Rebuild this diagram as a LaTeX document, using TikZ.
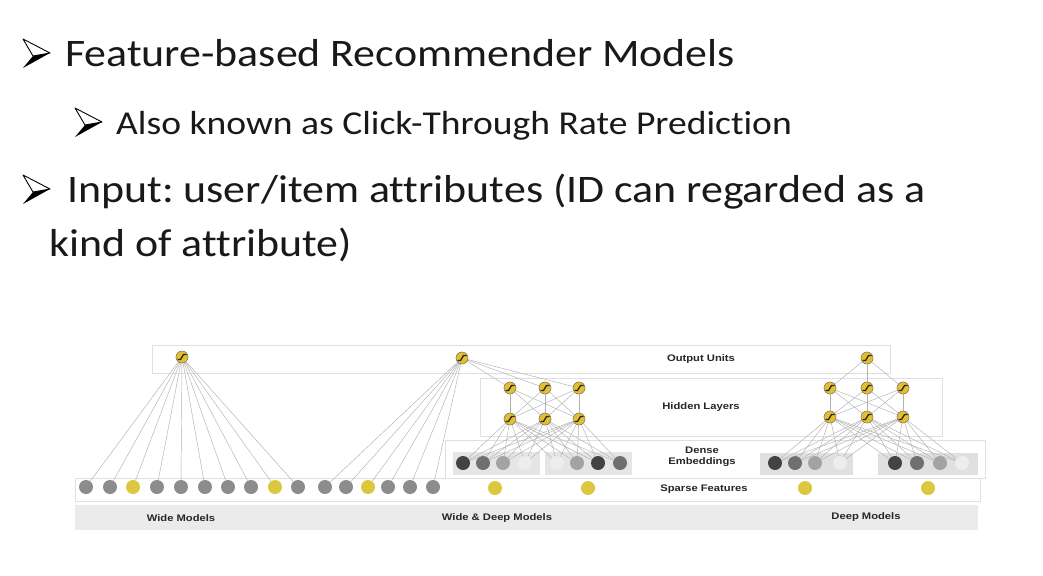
\documentclass[tikz,border=0pt]{standalone}
\usepackage{fontspec}
\setmainfont{Carlito}[FakeStretch=1.125, RawFeature=-liga]
\newfontfamily\labfont{Liberation Sans}[FakeStretch=1.18]
\frenchspacing
\definecolor{neuy}{HTML}{E3BE2E}
\definecolor{sparsey}{HTML}{DCC83E}
\definecolor{sparseg}{HTML}{8C8C8C}
\definecolor{embA}{HTML}{434343}
\definecolor{embB}{HTML}{6F6F6F}
\definecolor{embC}{HTML}{A3A3A3}
\definecolor{embD}{HTML}{EDEDED}
\tikzset{
  txt/.style={anchor=base west, inner sep=0pt, text=black!90},
  band/.style={draw=black!12, line width=0.6pt},
  lbl/.style={font=\labfont\bfseries\fontsize{9.5}{10}\selectfont, text=black!85, align=center, inner sep=0pt},
  neuron/.style={circle, minimum size=12pt, inner sep=0pt, fill=neuy, draw=black!55, line width=0.4pt,
    path picture={\draw[black!85, line width=1.3pt]
      ([xshift=-4.5pt,yshift=-2.5pt]path picture bounding box.center) --
      ([xshift=-1.5pt,yshift=-2.5pt]path picture bounding box.center) --
      ([xshift=1.5pt,yshift=2.5pt]path picture bounding box.center) --
      ([xshift=4.5pt,yshift=2.5pt]path picture bounding box.center);}},
  sp/.style={circle, minimum size=14pt, inner sep=0pt, fill=sparseg},
  spy/.style={circle, minimum size=14pt, inner sep=0pt, fill=sparsey},
  emb/.style={circle, minimum size=14pt, inner sep=0pt, fill=#1},
  conn/.style={draw=black!30, line width=0.45pt},
  bul/.pic={\fill[black] (0,0) -- (-17,3) -- (-27,15) -- cycle;
            \draw[black, line width=0.9pt, line join=round, fill=white] (0,0) -- (-27,-14) -- (-17,3) -- cycle;}
}
\begin{document}
\begin{tikzpicture}[x=1pt,y=-1pt]
\useasboundingbox (0,0) rectangle (1043,575);
\fill[white] (0,0) rectangle (1043,575);

% ---- bullet text ----
\pic at (50,53) {bul};
\node[txt, font=\fontsize{39}{39}\selectfont] (t1) at (65,67) {Feature-based Recommender Models};
\pic at (102,122) {bul};
\node[txt, font=\fontsize{33.4}{34}\selectfont] (t2) at (116,135) {Also known as Click-Through Rate Prediction};
\pic at (50,189) {bul};
\node[txt, font=\fontsize{39}{39}\selectfont] (t3) at (67,202) {Input: user/item attributes (ID can regarded as a};
\node[txt, font=\fontsize{39}{39}\selectfont] (t4) at (49,256) {kind of attribute)};

% ---- bands ----
\draw[band] (152,345) rectangle (890,373);
\draw[band] (480,378) rectangle (942,436);
\draw[band] (445,440) rectangle (985,478);
\draw[band] (75,478) rectangle (980,501);
\fill[black!8] (75,505) rectangle (978,530);
\fill[black!10] (453,452) rectangle (540,475);
\fill[black!10] (545,452) rectangle (632,475);
\fill[black!12] (760,453) rectangle (853,475);
\fill[black!12] (878,453) rectangle (978,475);

% ---- Wide model ----
\node[neuron] (wo) at (182,357) {};
\foreach \i/\x/\s in {1/86/sp,2/110/sp,3/133/spy,4/157/sp,5/181/sp,6/205/sp,7/228/sp,8/251/sp,9/275/spy,10/298/sp}{
  \node[\s] (ws\i) at (\x,487) {};
  \draw[conn] (wo) -- (ws\i);
}

% ---- Wide & Deep model ----
\node[neuron] (wdo) at (462,358) {};
\foreach \i/\x/\s in {1/325/sp,2/346/sp,3/368/spy,4/388/sp,5/410/sp,6/433/sp}{
  \node[\s] (wds\i) at (\x,487) {};
  \draw[conn] (wdo) -- (wds\i);
}
\foreach \i/\x in {1/510,2/545,3/579}{
  \node[neuron] (wdh\i) at (\x,388) {};
  \node[neuron] (wdl\i) at (\x,419) {};
}
\foreach \i/\x/\c in {1/463/embA,2/483/embB,3/503/embC,4/525/embD,5/557/embD,6/577/embC,7/598/embA,8/620/embB}{
  \node[emb=\c] (wde\i) at (\x,463) {};
}
\node[spy] (wdy1) at (495,488) {};
\node[spy] (wdy2) at (588,488) {};
\foreach \i in {1,2,3}{
  \draw[conn] (wdo) -- (wdh\i);
  \foreach \j in {1,2,3}{ \draw[conn] (wdh\i) -- (wdl\j); }
  \foreach \k in {1,...,8}{ \draw[conn] (wdl\i) -- (wde\k); }
}

% ---- Deep model ----
\node[neuron] (do) at (867,358) {};
\foreach \i/\x in {1/830,2/867,3/903}{
  \node[neuron] (dh\i) at (\x,388) {};
  \node[neuron] (dl\i) at (\x,417) {};
}
\foreach \i/\x/\c in {1/775/embA,2/795/embB,3/815/embC,4/840/embD,5/895/embA,6/917/embB,7/940/embC,8/962/embD}{
  \node[emb=\c] (de\i) at (\x,463) {};
}
\node[spy] (dy1) at (805,488) {};
\node[spy] (dy2) at (928,488) {};
\foreach \i in {1,2,3}{
  \draw[conn] (do) -- (dh\i);
  \foreach \j in {1,2,3}{ \draw[conn] (dh\i) -- (dl\j); }
  \foreach \k in {1,...,8}{ \draw[conn] (dl\i) -- (de\k); }
}
% redraw nodes on top of lines
\foreach \i in {1,2,3}{
  \node[neuron] at (wdh\i) {}; \node[neuron] at (wdl\i) {};
  \node[neuron] at (dh\i) {}; \node[neuron] at (dl\i) {};
}
\node[neuron] at (wo) {};
\node[neuron] at (wdo) {};
\node[neuron] at (do) {};

% ---- labels ----
\node[lbl] (lo) at (701,359) {Output Units};
\node[lbl] (lh) at (701,407) {Hidden Layers};
\node[lbl] (ld) at (702,457) {Dense\\[1pt]Embeddings};
\node[lbl] (ls) at (704,489) {Sparse Features};
\node[lbl] (bw) at (181,518) {Wide Models};
\node[lbl] (bwd) at (497,518) {Wide \& Deep Models};
\node[lbl] (bd) at (866,517) {Deep Models};
\end{tikzpicture}
\end{document}
